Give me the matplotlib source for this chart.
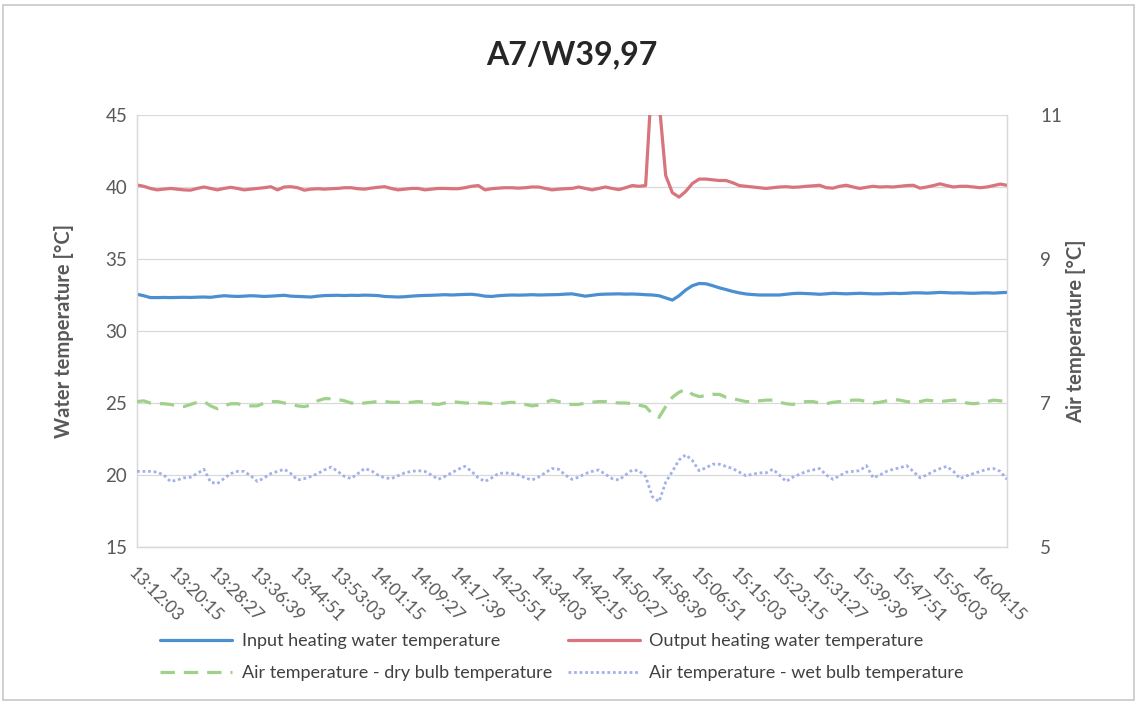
import matplotlib
matplotlib.use("Agg")
import matplotlib.pyplot as plt
from matplotlib.patches import Rectangle
import numpy as np

plt.rcParams['font.family'] = ['Lato', 'DejaVu Sans']

title = "A7/W39,97"
tick_labels = ["13:12:03", "13:20:15", "13:28:27", "13:36:39", "13:44:51", "13:53:03",
               "14:01:15", "14:09:27", "14:17:39", "14:25:51", "14:34:03", "14:42:15",
               "14:50:27", "14:58:39", "15:06:51", "15:15:03", "15:23:15", "15:31:27",
               "15:39:39", "15:47:51", "15:56:03", "16:04:15"]
points_per_label = 6

input_water = [32.55, 32.45, 32.32, 32.32, 32.33, 32.32, 32.33, 32.34, 32.33, 32.35,
               32.36, 32.34, 32.40, 32.45, 32.42, 32.40, 32.42, 32.45, 32.43, 32.40,
               32.42, 32.45, 32.48, 32.42, 32.40, 32.38, 32.36, 32.42, 32.46, 32.47,
               32.48, 32.46, 32.48, 32.47, 32.49, 32.48, 32.46, 32.40, 32.38, 32.36,
               32.38, 32.42, 32.45, 32.47, 32.48, 32.50, 32.52, 32.50, 32.52, 32.54,
               32.55, 32.50, 32.42, 32.40, 32.45, 32.48, 32.50, 32.49, 32.50, 32.52,
               32.50, 32.51, 32.52, 32.53, 32.56, 32.58, 32.50, 32.42, 32.48, 32.54,
               32.56, 32.57, 32.58, 32.56, 32.57, 32.55, 32.52, 32.50, 32.45, 32.30,
               32.15, 32.45, 32.85, 33.15, 33.30, 33.28, 33.15, 33.00, 32.88, 32.75,
               32.65, 32.57, 32.53, 32.50, 32.50, 32.50, 32.50, 32.55, 32.60, 32.62,
               32.60, 32.58, 32.55, 32.58, 32.62, 32.60, 32.58, 32.60, 32.62, 32.60,
               32.58, 32.58, 32.60, 32.62, 32.60, 32.62, 32.65, 32.65, 32.63, 32.65,
               32.68, 32.66, 32.64, 32.65, 32.63, 32.62, 32.64, 32.65, 32.63, 32.66,
               32.68]

output_water = [40.14, 40.05, 39.90, 39.80, 39.85, 39.90, 39.85, 39.80, 39.78, 39.90,
                40.00, 39.90, 39.80, 39.90, 39.98, 39.90, 39.80, 39.85, 39.90, 39.95,
                40.02, 39.80, 40.00, 40.02, 39.95, 39.78, 39.85, 39.88, 39.85, 39.88,
                39.90, 39.95, 39.95, 39.88, 39.85, 39.92, 39.98, 40.02, 39.90, 39.80,
                39.85, 39.90, 39.90, 39.80, 39.85, 39.90, 39.90, 39.88, 39.88, 39.95,
                40.05, 40.10, 39.80, 39.88, 39.92, 39.95, 39.95, 39.92, 39.95, 40.00,
                40.00, 39.90, 39.80, 39.85, 39.88, 39.90, 40.00, 39.90, 39.80, 39.90,
                40.00, 39.90, 39.82, 39.95, 40.10, 40.05, 40.10, 48.00, 46.00, 40.80,
                39.60, 39.30, 39.70, 40.25, 40.55, 40.55, 40.50, 40.45, 40.45, 40.30,
                40.10, 40.05, 40.00, 39.95, 39.90, 39.95, 40.00, 40.02, 39.98, 40.00,
                40.05, 40.08, 40.12, 39.95, 39.92, 40.05, 40.12, 40.00, 39.90, 39.98,
                40.05, 40.00, 40.02, 40.00, 40.05, 40.10, 40.12, 39.92, 40.00, 40.10,
                40.22, 40.10, 40.00, 40.05, 40.05, 40.00, 39.95, 40.00, 40.10, 40.20,
                40.12]

air_dry = [7.02, 7.03, 7.00, 6.99, 6.99, 6.98, 6.96, 6.95, 6.98, 7.01,
           7.02, 6.96, 6.92, 6.96, 6.99, 6.99, 6.97, 6.96, 6.96, 7.00,
           7.02, 7.02, 7.00, 6.98, 6.96, 6.95, 6.97, 7.03, 7.06, 7.06,
           7.05, 7.03, 7.00, 6.99, 7.00, 7.01, 7.02, 7.02, 7.01, 7.01,
           7.00, 7.01, 7.02, 7.01, 6.99, 6.98, 7.00, 7.02, 7.01, 7.00,
           7.00, 7.00, 7.00, 6.99, 6.99, 7.00, 7.01, 7.00, 6.98, 6.96,
           6.97, 7.01, 7.04, 7.02, 6.99, 6.98, 6.98, 7.00, 7.01, 7.02,
           7.02, 7.01, 7.00, 7.00, 6.99, 6.97, 6.95, 6.85, 6.80, 6.95,
           7.08, 7.15, 7.19, 7.12, 7.09, 7.10, 7.12, 7.12, 7.08, 7.06,
           7.04, 7.02, 7.02, 7.03, 7.04, 7.04, 7.01, 6.99, 6.98, 7.00,
           7.02, 7.02, 7.00, 6.99, 7.01, 7.02, 7.03, 7.04, 7.04, 7.02,
           7.00, 7.01, 7.03, 7.05, 7.04, 7.02, 7.01, 7.02, 7.04, 7.03,
           7.02, 7.03, 7.04, 7.03, 7.00, 6.99, 7.00, 7.02, 7.04, 7.03,
           7.02]

air_wet = [6.05, 6.05, 6.05, 6.04, 6.00, 5.91, 5.93, 5.96, 5.97, 6.02,
           6.08, 5.90, 5.88, 5.95, 6.02, 6.05, 6.05, 5.99, 5.91, 5.96,
           6.02, 6.05, 6.08, 6.02, 5.93, 5.95, 5.98, 6.02, 6.07, 6.11,
           6.05, 5.98, 5.95, 6.02, 6.09, 6.06, 6.00, 5.96, 5.95, 5.99,
           6.03, 6.05, 6.06, 6.05, 6.00, 5.94, 5.98, 6.03, 6.08, 6.12,
           6.05, 5.96, 5.91, 5.96, 6.02, 6.03, 6.02, 6.00, 5.96, 5.93,
           5.97, 6.03, 6.09, 6.08, 6.00, 5.94, 5.97, 6.02, 6.05, 6.07,
           6.01, 5.95, 5.93, 6.00, 6.07, 6.06, 5.98, 5.70, 5.63, 5.90,
           6.05, 6.21, 6.28, 6.20, 6.06, 6.10, 6.15, 6.15, 6.12, 6.09,
           6.04, 5.99, 6.01, 6.03, 6.03, 6.08, 6.00, 5.91, 5.97, 6.01,
           6.05, 6.07, 6.09, 6.00, 5.94, 5.99, 6.04, 6.05, 6.06, 6.13,
           5.96, 6.00, 6.05, 6.08, 6.10, 6.13, 6.05, 5.96, 6.00, 6.05,
           6.09, 6.12, 6.05, 5.95, 5.99, 6.02, 6.05, 6.08, 6.09, 6.05,
           5.94]

labels = ["Input heating water temperature", "Output heating water temperature",
          "Air temperature - dry bulb temperature", "Air temperature - wet bulb temperature"]
left_ticks = [15, 20, 25, 30, 35, 40, 45]
right_ticks = [5, 7, 9, 11]

W, H = 1137, 702
fig = plt.figure(figsize=(W / 100, H / 100), dpi=100)
fig.patches.append(Rectangle((0.003, 0.003), 0.994, 0.99, transform=fig.transFigure,
                             fill=False, edgecolor='#c8c8c8', linewidth=1.2))

ax = fig.add_axes([137 / W, 1 - 547 / H, (1007 - 137) / W, (547 - 115) / H])
ax2 = ax.twinx()

x = np.arange(len(input_water))
tick_pos = np.arange(len(tick_labels)) * points_per_label

c_in, c_out, c_dry, c_wet = '#4a8fd2', '#d9737e', '#9fd18b', '#a3b1eb'

l1, = ax.plot(x, input_water, color=c_in, lw=2.3, solid_capstyle='round', zorder=3)
l2, = ax.plot(x, output_water, color=c_out, lw=2.3, solid_capstyle='round', zorder=3)
l3, = ax2.plot(x, air_dry, color=c_dry, lw=2.3, linestyle=(0, (4.5, 2.8)), zorder=3)
l4, = ax2.plot(x, air_wet, color=c_wet, lw=2.0, linestyle=(0, (1, 1.0)), zorder=3)

ax.set_xlim(0, len(x) - 1)
ax.set_ylim(15, 45)
ax2.set_ylim(5, 11)
ax.set_yticks(left_ticks)
ax2.set_yticks(right_ticks)
ax.set_xticks(tick_pos)
ax.set_xticklabels(tick_labels, rotation=-45, ha='left', va='top', rotation_mode='anchor')
ax.grid(axis='y', color='#d9d9d9', lw=0.9)
ax.set_axisbelow(True)

tick_color = '#595959'
ax.tick_params(axis='y', length=0, pad=7, labelsize=13.5, labelcolor=tick_color)
ax2.tick_params(axis='y', length=0, pad=24, labelsize=13.5, labelcolor=tick_color)
ax.tick_params(axis='x', length=0, pad=13, labelsize=12.5, labelcolor=tick_color)

for a in (ax, ax2):
    for s in a.spines.values():
        s.set_color('#d9d9d9')
        s.set_linewidth(0.9)
    a.spines['top'].set_visible(False)

ax.set_ylabel("Water temperature [°C]", fontsize=14.5, fontweight='bold', color=tick_color)
ax2.set_ylabel("Air temperature [°C]", fontsize=14.5, fontweight='bold', color=tick_color)
ax.yaxis.set_label_coords((74 - 137) / 870, 0.5)
ax2.yaxis.set_label_coords((1066 - 137) / 870, 0.5)

fig.text(572 / W, 1 - 55 / H, title, ha='center', va='center', fontsize=23,
         fontweight='bold', color='#262626')

leg = fig.legend([l1, l3, l2, l4], [labels[0], labels[2], labels[1], labels[3]],
                 ncol=2, loc='center', bbox_to_anchor=(562 / W, 1 - 657 / H),
                 frameon=False, fontsize=13, handlelength=4.0, columnspacing=0.9,
                 labelspacing=0.9, handletextpad=0.5, labelcolor='#404040')

fig.savefig("out.png", dpi=100)
